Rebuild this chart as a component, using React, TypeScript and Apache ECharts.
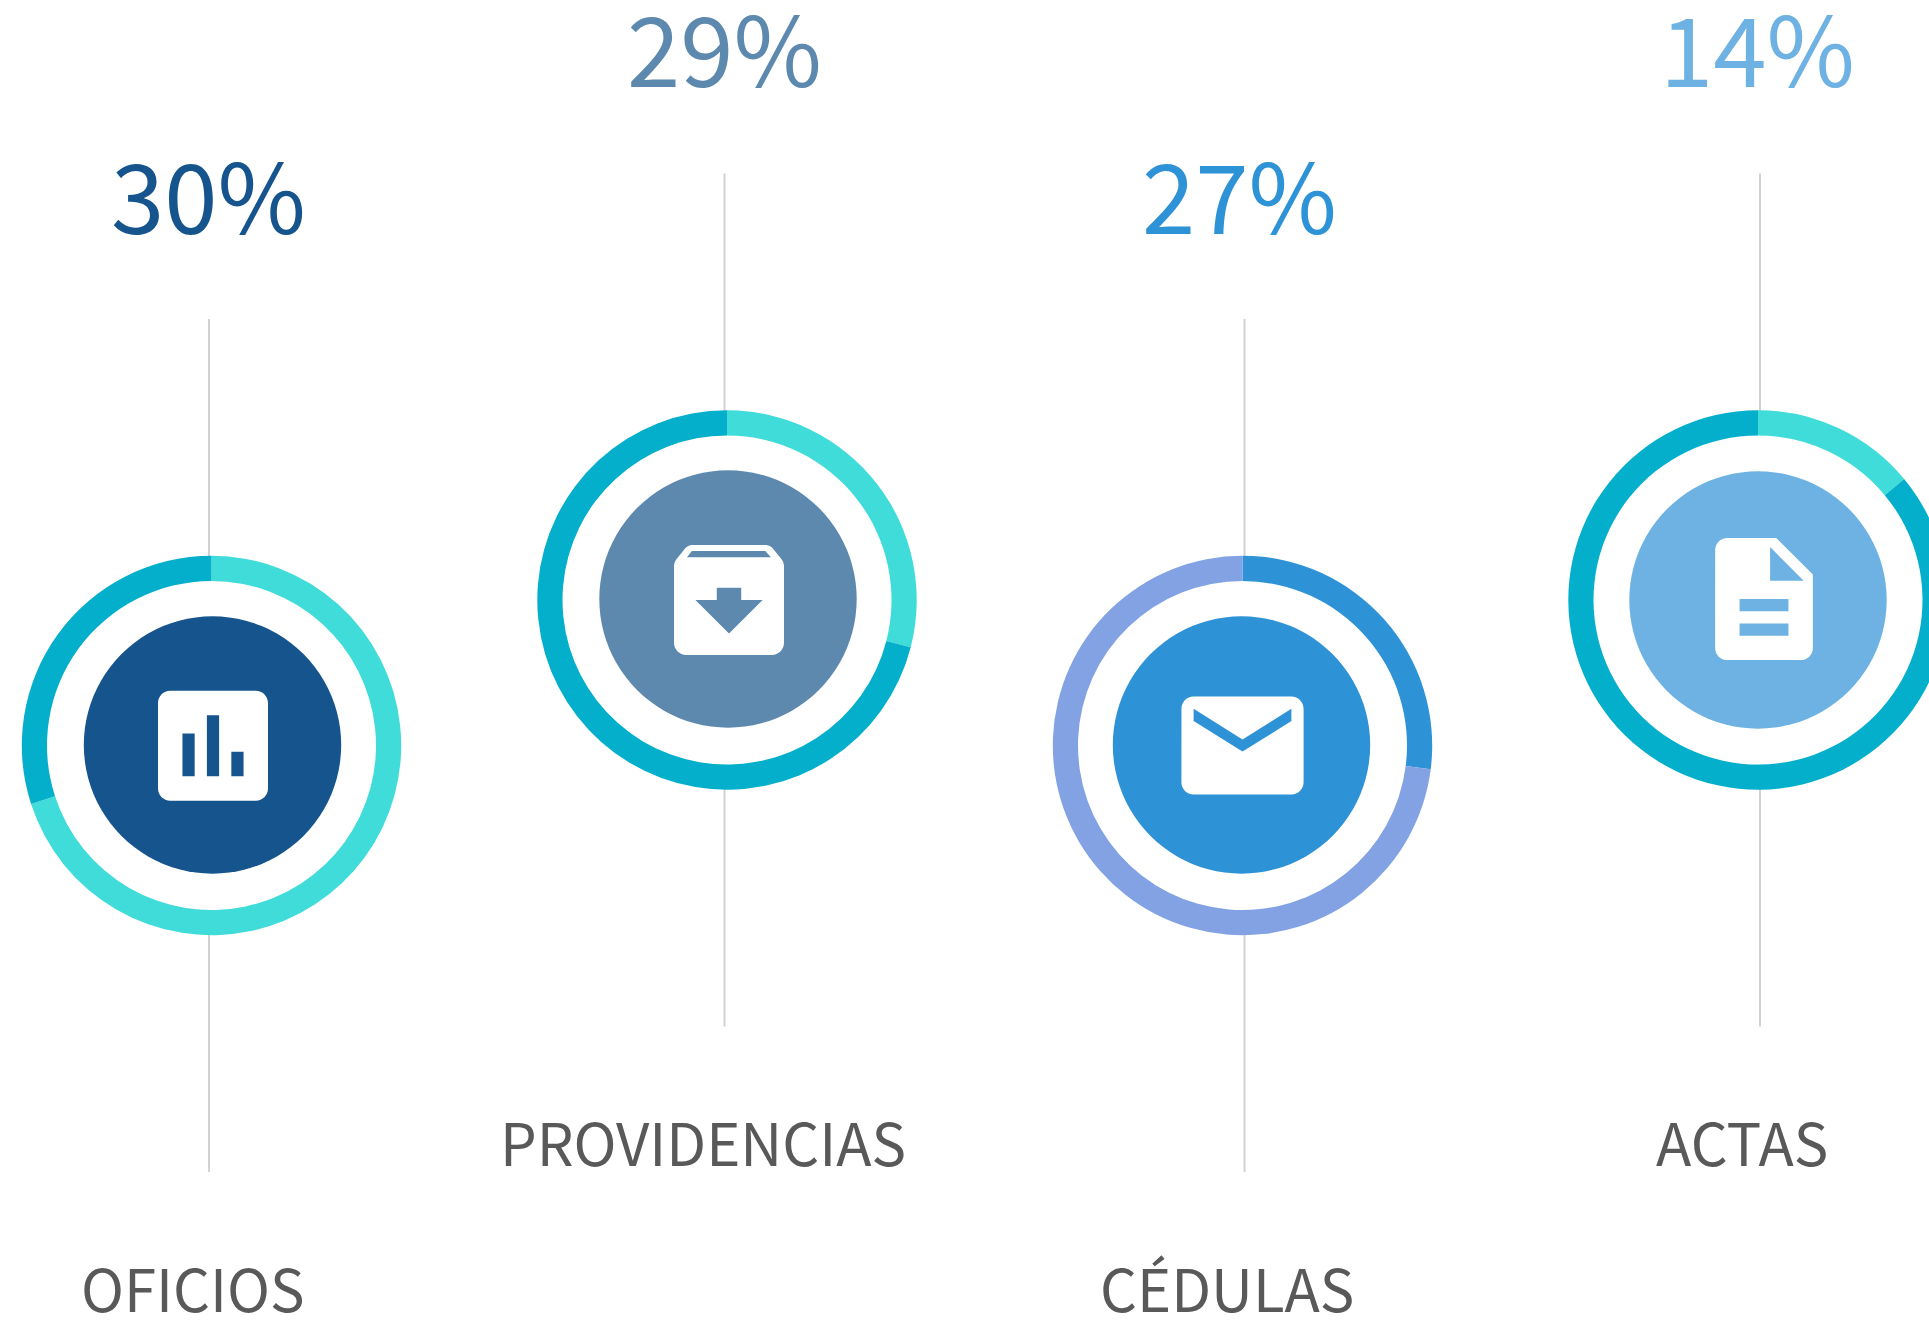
import React, { useEffect, useRef } from "react";
import * as echarts from "echarts";

const categories = ["OFICIOS", "PROVIDENCIAS", "CÉDULAS", "ACTAS"];
const percentLabels = ["30%", "29%", "27%", "14%"];
const firstSliceValues = [70, 29, 27, 14];
const secondSliceValues = [30, 71, 73, 86];
const firstSliceColors = ["#40DCD9", "#40DCD9", "#2E92D7", "#40DCD9"];
const secondSliceColors = ["#03AFCB", "#03AFCB", "#82A2E3", "#03AFCB"];
const discColors = ["#15548C", "#5D89AF", "#2E92D7", "#6DB2E2"];
const percentColors = ["#15548C", "#5D89AF", "#2E92D7", "#6DB2E2"];

const centers = [[211.5, 745.5], [727, 600], [1242.5, 745.5], [1758, 600]];
const discCenters = [[212.5, 745], [728, 599], [1241.5, 745], [1758, 600]];
const lineX = [209, 724.5, 1244.5, 1760];
const iconCenters = [[213, 745.7], [729, 600], [1242.5, 745.5], [1764, 599]];
const percentPos = [[111, 240], [627, 93], [1142, 240], [1660, 93]];
const labelPos = [[81, 1316], [500, 1170], [1100, 1316], [1656, 1170]];

const ICONS = [
  "M19 3H5c-1.1 0-2 .9-2 2v14c0 1.1.9 2 2 2h14c1.1 0 2-.9 2-2V5c0-1.1-.9-2-2-2zM9 17H7v-7h2v7zm4 0h-2V7h2v10zm4 0h-2v-4h2v4z",
  "M20.54 5.23l-1.39-1.68C18.88 3.21 18.47 3 18 3H6c-.47 0-.88.21-1.16.55L3.46 5.23C3.17 5.57 3 6.02 3 6.5V19c0 1.1.9 2 2 2h14c1.1 0 2-.9 2-2V6.5c0-.48-.17-.93-.46-1.27zM12 17.5L6.5 12H10v-2h4v2h3.5L12 17.5zM5.12 5l.81-1h12l.94 1H5.12z",
  "M20 4H4c-1.1 0-1.99.9-1.99 2L2 18c0 1.1.9 2 2 2h16c1.1 0 2-.9 2-2V6c0-1.1-.9-2-2-2zm0 4l-8 5-8-5V6l8 5 8-5v2z",
  "M14 2H6c-1.1 0-1.99.9-1.99 2L4 20c0 1.1.89 2 1.99 2H18c1.1 0 2-.9 2-2V8l-6-6zm2 16H8v-2h8v2zm0-4H8v-2h8v2zm-3-5V3.5L18.5 9H13z",
];
ICONS.forEach((d, i) => {
  echarts.graphic.registerShape("icon" + i, echarts.graphic.extendPath(d as any, {} as any));
});

const FONT = '"Noto Sans CJK SC", "Noto Sans", sans-serif';
const ICON_SCALE = 6.11;

export default function App() {
  const ref = useRef<HTMLDivElement>(null);
  useEffect(() => {
    document.body.style.margin = "0";
    document.body.style.overflow = "hidden";
    const chart = echarts.init(ref.current!, undefined, { renderer: "svg" });
    const graphics: any[] = [];
    categories.forEach((name, i) => {
      const [cx, cy] = centers[i];
      const [dx, dy] = discCenters[i];
      const [ix, iy] = iconCenters[i];
      const R = 189.7;
      graphics.push(
        { type: "line", shape: { x1: lineX[i], y1: cy - 426.5, x2: lineX[i], y2: cy - R + 1 }, style: { stroke: "#D2D2D2", lineWidth: 2 }, silent: true },
        { type: "line", shape: { x1: lineX[i], y1: cy + R - 1, x2: lineX[i], y2: cy + 426.5 }, style: { stroke: "#D2D2D2", lineWidth: 2 }, silent: true },
        { type: "circle", shape: { cx: dx, cy: dy, r: 128.7 }, style: { fill: discColors[i] }, silent: true },
        { type: "icon" + i, x: ix - 12 * ICON_SCALE, y: iy - 12 * ICON_SCALE, scaleX: ICON_SCALE, scaleY: ICON_SCALE, style: { fill: "#FFFFFF" }, silent: true },
        { type: "text", x: percentPos[i][0], y: percentPos[i][1], silent: true,
          style: { text: percentLabels[i], fill: percentColors[i], font: `400 96px ${FONT}`, textAlign: "left", textVerticalAlign: "bottom", textBaseline: "bottom" } },
        { type: "text", x: labelPos[i][0], y: labelPos[i][1], silent: true,
          style: { text: name, fill: "#595959", font: `400 58px ${FONT}`, textAlign: "left", textVerticalAlign: "bottom", textBaseline: "bottom" } },
      );
    });
    chart.setOption({
      animation: false,
      backgroundColor: "#FFFFFF",
      graphic: graphics,
      series: categories.map((name, i) => ({
        type: "pie",
        name,
        silent: true,
        center: centers[i],
        radius: [164.5, 189.7],
        startAngle: 90,
        clockwise: true,
        label: { show: false },
        labelLine: { show: false },
        itemStyle: { borderWidth: 0 },
        data: [
          { value: firstSliceValues[i], itemStyle: { color: firstSliceColors[i] } },
          { value: secondSliceValues[i], itemStyle: { color: secondSliceColors[i] } },
        ],
      })),
    });
    return () => chart.dispose();
  }, []);
  return <div ref={ref} style={{ width: 1929, height: 1320 }} />;
}
